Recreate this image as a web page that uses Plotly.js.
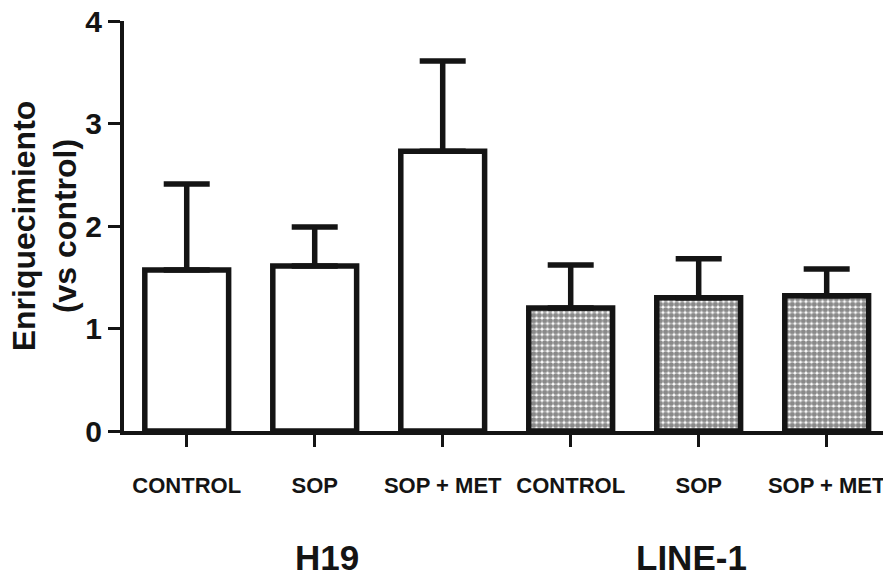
<!DOCTYPE html>
<html>
<head>
<meta charset="utf-8">
<script src="https://cdn.plot.ly/plotly-3.0.1.min.js"></script>
<style>
html,body{margin:0;padding:0;background:#fff;}
#chart{width:883px;height:578px;}
</style>
</head>
<body>
<div id="chart"></div>
<script>
// ---- data ----
const groups = ['H19', 'H19', 'H19', 'LINE-1', 'LINE-1', 'LINE-1'];
const conditions = ['CONTROL', 'SOP', 'SOP + MET', 'CONTROL', 'SOP', 'SOP + MET'];
const means = [1.57, 1.61, 2.73, 1.20, 1.30, 1.32];
const errors = [0.84, 0.38, 0.88, 0.42, 0.38, 0.26];
const groupNames = ['H19', 'LINE-1'];
const yTicks = [0, 1, 2, 3, 4];

// ---- build ----
const ink = '#141414';
const FONT = 'Liberation Sans, Arial, Helvetica, sans-serif';
const positions = conditions.map((_, i) => i);

const traces = groupNames.map((g, gi) => {
  const idx = positions.filter(i => groups[i] === g);
  const marker = {
    color: '#ffffff',
    line: {color: ink, width: 5.5}
  };
  if (gi === 1) {
    marker.pattern = {shape: '.', fgcolor: ink, bgcolor: '#ffffff', size: 5.5, solidity: 0.72, fillmode: 'overlay'};
  }
  return {
    type: 'bar',
    name: g,
    x: idx,
    y: idx.map(i => means[i]),
    width: 0.655,
    marker: marker,
    error_y: {
      type: 'data',
      symmetric: false,
      array: idx.map(i => errors[i]),
      arrayminus: idx.map(() => 0),
      color: ink,
      thickness: 5.5,
      width: 23
    },
    hoverinfo: 'skip'
  };
});

const groupCenters = groupNames.map(g => {
  const idx = positions.filter(i => groups[i] === g);
  return idx.reduce((a, b) => a + b, 0) / idx.length;
});
const groupShift = [12, -7];

const layout = {
  width: 883,
  height: 578,
  margin: {l: 124, r: 0, t: 21, b: 147},
  paper_bgcolor: '#ffffff',
  plot_bgcolor: '#ffffff',
  showlegend: false,
  barmode: 'overlay',
  font: {family: FONT, color: ink},
  xaxis: {
    range: [-0.49, 5.44],
    tickmode: 'array',
    tickvals: positions,
    ticktext: conditions,
    ticks: 'outside',
    ticklen: 12,
    tickwidth: 3,
    tickcolor: ink,
    showline: true,
    linewidth: 4,
    linecolor: ink,
    showgrid: false,
    zeroline: false,
    tickfont: {family: FONT, size: 22, weight: 'bold', color: ink},
    ticklabelstandoff: 20,
    ticklabeloverflow: 'allow',
    fixedrange: true
  },
  yaxis: {
    range: [0, 4],
    tickmode: 'array',
    tickvals: yTicks,
    ticktext: yTicks.map(String),
    ticks: 'outside',
    ticklen: 12,
    tickwidth: 3,
    tickcolor: ink,
    showline: true,
    linewidth: 4,
    linecolor: ink,
    showgrid: false,
    zeroline: false,
    tickfont: {family: FONT, size: 30, weight: 'bold', color: ink},
    title: {
      text: 'Enriquecimiento<br>(vs control)',
      font: {family: FONT, size: 32, weight: 'bold', color: ink},
      standoff: 0
    },
    fixedrange: true
  },
  annotations: groupNames.map((g, gi) => ({
    text: g,
    xref: 'x',
    yref: 'paper',
    x: groupCenters[gi],
    xshift: groupShift[gi],
    y: -0.255,
    xanchor: 'center',
    yanchor: 'top',
    showarrow: false,
    font: {family: FONT, size: 35, weight: 'bold', color: ink}
  }))
};

Plotly.newPlot('chart', traces, layout, {displayModeBar: false, staticPlot: true});
</script>
</body>
</html>
